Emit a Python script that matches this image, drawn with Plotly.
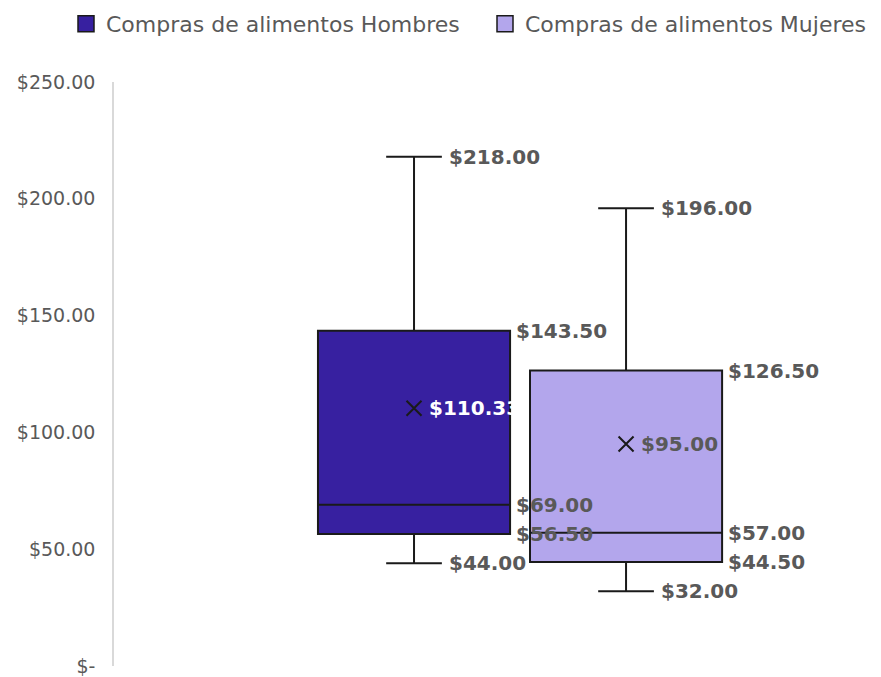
import plotly.graph_objects as go

# datos (caja y bigotes)
series = ["Compras de alimentos Hombres", "Compras de alimentos Mujeres"]
minimo = [44.0, 32.0]
q1 = [56.5, 44.5]
mediana = [69.0, 57.0]
q3 = [143.5, 126.5]
maximo = [218.0, 196.0]
media = [110.33, 95.0]
colores = ["#3720A0", "#B3A6EC"]
color_media_txt = ["#FFFFFF", "#595959"]

tick_vals = [0, 50, 100, 150, 200, 250]
tick_text = ["$-", "$50.00", "$100.00", "$150.00", "$200.00", "$250.00"]

posiciones = [0, 1]
ancho = 0.906
bigote = 0.29
gris = "#595959"
fuente = "DejaVu Sans"
leyendas = ["legend", "legend2"]
leyenda_x = [58, 477]

fig = go.Figure()

for i, nombre in enumerate(series):
    fig.add_trace(go.Box(
        x=[posiciones[i]], q1=[q1[i]], median=[mediana[i]], q3=[q3[i]],
        lowerfence=[minimo[i]], upperfence=[maximo[i]],
        width=ancho, whiskerwidth=bigote, fillcolor=colores[i],
        line=dict(color="#1a1a1a", width=2), boxpoints=False,
        name=nombre, showlegend=False, hoverinfo="skip",
    ))
    fig.add_trace(go.Scatter(
        x=[posiciones[i]], y=[media[i]], mode="markers",
        marker=dict(symbol="x-thin", size=15, line=dict(color="#1a1a1a", width=2)),
        showlegend=False, hoverinfo="skip",
    ))
    # entrada de leyenda
    fig.add_trace(go.Scatter(
        x=[None], y=[None], mode="markers", name=nombre, legend=leyendas[i],
        marker=dict(symbol="square", size=18, color=colores[i], line=dict(color="#1a1a1a", width=1.5)),
    ))

    lab = dict(font=dict(family=fuente, size=20, color=gris, weight="bold"),
               showarrow=False, xanchor="left", yanchor="middle")
    for v in (q3[i], mediana[i], q1[i]):
        fig.add_annotation(x=posiciones[i] + ancho / 2, y=v, text="${:.2f}".format(v), xshift=4, **lab)
    for v in (maximo[i], minimo[i]):
        fig.add_annotation(x=posiciones[i] + ancho * bigote / 2, y=v, text="${:.2f}".format(v), xshift=5, **lab)
    lab_m = dict(lab)
    lab_m["font"] = dict(family=fuente, size=20, color=color_media_txt[i], weight="bold")
    fig.add_annotation(x=posiciones[i], y=media[i], text="${:.2f}".format(media[i]), xshift=13, **lab_m)

ley = {}
for i, k in enumerate(leyendas):
    ley[k] = dict(orientation="h", xref="container", yref="container",
                  x=leyenda_x[i] / 881, xanchor="left", y=1 - 16 / 677, yanchor="middle",
                  font=dict(size=22, color=gris), itemwidth=30)

fig.update_layout(
    width=881, height=677,
    margin=dict(l=106, r=17, t=74, b=19, autoexpand=False),
    paper_bgcolor="white", plot_bgcolor="white",
    font=dict(family=fuente, color=gris),
    **ley,
)
fig.update_xaxes(range=[-1.415, 2.16], visible=False, showgrid=False, zeroline=False)
fig.update_yaxes(range=[0, 250], tickvals=tick_vals, ticktext=tick_text, showgrid=False,
                 zeroline=False, showline=True, linecolor="#D9D9D9", linewidth=1.5,
                 ticks="", ticklabelstandoff=13, tickfont=dict(size=19, color=gris),
                 automargin=False)

fig.write_html("out.html")
